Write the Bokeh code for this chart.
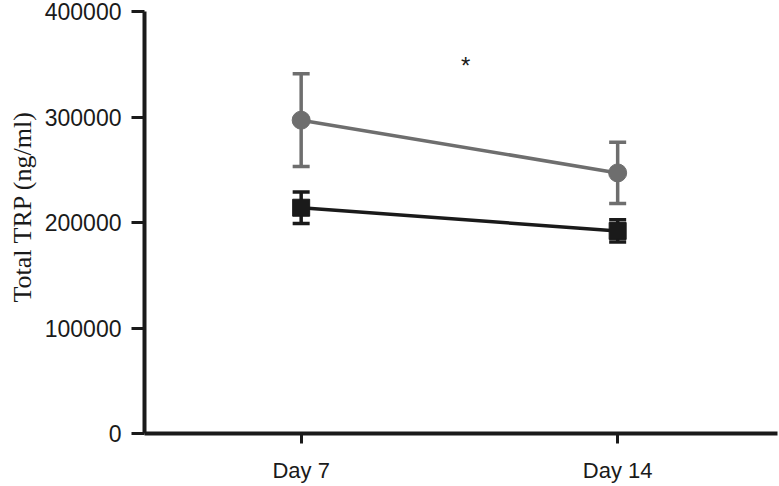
from bokeh.plotting import figure
from bokeh.models import FixedTicker, Whisker, TeeHead, ColumnDataSource, Label, Title
from bokeh.embed import file_html
from bokeh.resources import INLINE

# ---- data ----
days = ["Day 7", "Day 14"]
x_pos = [1, 2]
grey_mean = [297000, 247000]
grey_err = [44000, 29000]
black_mean = [214000, 192000]
black_err = [15000, 10500]
y_ticks = [0, 100000, 200000, 300000, 400000]
star_x = 1.52
star_y = 350000
y_label = "Total TRP (ng/ml)"

GREY = "#6e6e6e"
BLACK = "#1a1a1a"

p = figure(width=779, height=486, output_backend="svg", toolbar_location=None,
           x_range=(0.505, 2.505), y_range=(0, 400000),
           min_border_left=143, min_border_top=11, min_border_right=2, min_border_bottom=53)
p.outline_line_color = None
p.grid.visible = False
p.background_fill_color = "white"
p.border_fill_color = "white"

# axes
p.xaxis.ticker = FixedTicker(ticks=x_pos)
p.xaxis.major_label_overrides = {x: d for x, d in zip(x_pos, days)}
p.yaxis.ticker = FixedTicker(ticks=y_ticks)
p.yaxis.major_label_overrides = {t: str(t) for t in y_ticks}
for ax in (p.xaxis[0], p.yaxis[0]):
    ax.axis_line_width = 4
    ax.axis_line_color = BLACK
    ax.major_tick_line_width = 3
    ax.major_tick_line_color = BLACK
    ax.major_tick_in = 0
    ax.minor_tick_line_color = None
    ax.major_label_text_font = "Liberation Sans"
    ax.major_label_text_color = "#1a1a1a"
p.xaxis.major_label_text_font_size = "22px"
p.yaxis.major_label_text_font_size = "23px"
p.yaxis.major_tick_out = 13
p.yaxis.major_label_standoff = 10
p.xaxis.major_tick_out = 10
p.xaxis.major_label_standoff = 14

gsrc = ColumnDataSource(dict(x=x_pos, y=grey_mean,
                             up=[m + e for m, e in zip(grey_mean, grey_err)],
                             lo=[m - e for m, e in zip(grey_mean, grey_err)]))
bsrc = ColumnDataSource(dict(x=x_pos, y=black_mean,
                             up=[m + e for m, e in zip(black_mean, black_err)],
                             lo=[m - e for m, e in zip(black_mean, black_err)]))

p.line("x", "y", source=gsrc, line_color=GREY, line_width=3.5)
gw = Whisker(base="x", upper="up", lower="lo", source=gsrc, line_color=GREY, line_width=3.5,
             upper_head=TeeHead(size=17, line_color=GREY, line_width=3.5),
             lower_head=TeeHead(size=17, line_color=GREY, line_width=3.5))
p.add_layout(gw)
p.scatter("x", "y", source=gsrc, marker="circle", size=18, fill_color=GREY, line_color=GREY)

p.line("x", "y", source=bsrc, line_color=BLACK, line_width=3.5)
bw = Whisker(base="x", upper="up", lower="lo", source=bsrc, line_color=BLACK, line_width=3.5,
             upper_head=TeeHead(size=17, line_color=BLACK, line_width=3.5),
             lower_head=TeeHead(size=17, line_color=BLACK, line_width=3.5))
p.add_layout(bw)
p.scatter("x", "y", source=bsrc, marker="square", size=17, fill_color=BLACK, line_color=BLACK)

# significance star
p.add_layout(Label(x=star_x, y=star_y, text="*", text_font="Liberation Sans",
                   text_font_size="24px", text_color=BLACK,
                   text_align="center", text_baseline="middle", y_offset=-1))

# y-axis title as a side title, anchored from the bottom of the frame
p.add_layout(Title(text=y_label, align="left", offset=131, text_font="Liberation Serif",
                   text_font_size="26px", text_font_style="normal", text_color=BLACK,
                   standoff=10), "left")

open("out.html", "w").write(file_html(p, INLINE))
